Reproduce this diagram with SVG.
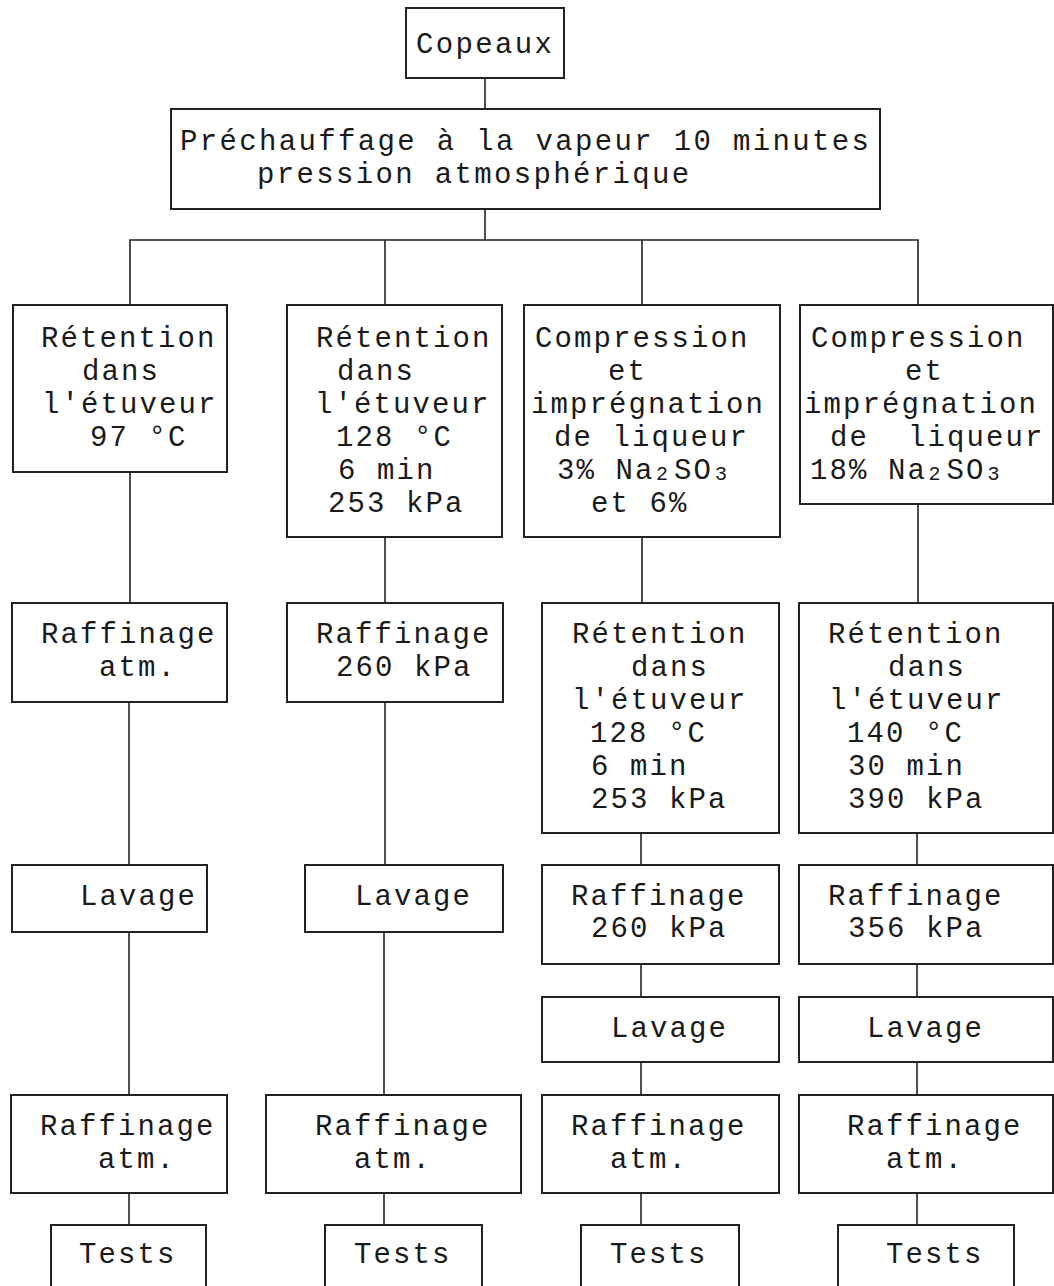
<svg xmlns="http://www.w3.org/2000/svg" width="1054" height="1286" viewBox="0 0 1054 1286">
<style>
.box{fill:#fff;stroke:#222;stroke-width:2}
.t{font-family:"Liberation Mono","DejaVu Sans Mono",monospace;font-size:29px;letter-spacing:2.1px;fill:#1a1a1a;white-space:pre}
.w{letter-spacing:2.35px}
.sub{font-size:20px}
.c{stroke:#222;stroke-width:1.6;fill:none}
</style>
<rect width="1054" height="1286" fill="#fff"/>
<g id="connectors">
<path class="c" d="M485 78V109M485 209V240M130 305V240H918V305M385 240V305M642 240V305"/>
<path class="c" d="M130 472V603M129 702V865M129 932V1095M129 1193V1225"/>
<path class="c" d="M385 537V603M385 702V865M384 932V1095M384 1193V1225"/>
<path class="c" d="M642 537V603M641 833V865M641 964V997M641 1062V1095M641 1193V1225"/>
<path class="c" d="M918 504V603M917 833V865M917 964V997M917 1062V1095M917 1193V1225"/>
</g>
<g id="copeaux"><rect class="box" x="406" y="8" width="158" height="70"/><text class="t w" x="416" y="53">Copeaux</text></g>
<g id="prechauffage"><rect class="box" x="171" y="109" width="709" height="100"/><text class="t w" x="180" y="150">Préchauffage à la vapeur 10 minutes</text><text class="t w" x="257" y="183">pression atmosphérique</text></g>

<g id="retention1"><rect class="box" x="13" y="305" width="214" height="167"/>
<text class="t" x="41" y="347">Rétention</text><text class="t" x="82" y="380">dans</text><text class="t" x="42" y="413">l'étuveur</text><text class="t" x="90" y="446">97 °C</text></g>
<g id="retention2"><rect class="box" x="287" y="305" width="215" height="232"/>
<text class="t" x="316" y="347">Rétention</text><text class="t" x="337" y="380">dans</text><text class="t" x="315" y="413">l'étuveur</text><text class="t" x="336" y="446">128 °C</text><text class="t" x="338" y="479">6 min</text><text class="t" x="328" y="512">253 kPa</text></g>
<g id="compression3"><rect class="box" x="524" y="305" width="256" height="232"/>
<text class="t" x="535" y="347">Compression</text><text class="t" x="608" y="380">et</text><text class="t" x="531" y="413">imprégnation</text><text class="t" x="554" y="446">de liqueur</text>
<text class="t" x="557" y="479">3% Na<tspan class="sub" x="656" dy="1">2</tspan><tspan x="674" dy="-1">SO</tspan><tspan class="sub" x="715" dy="1">3</tspan></text>
<text class="t" x="591" y="512">et 6%</text></g>
<g id="compression4"><rect class="box" x="800" y="305" width="253" height="199"/>
<text class="t" x="811" y="347">Compression</text><text class="t" x="905" y="380">et</text><text class="t" x="804" y="413">imprégnation</text><text class="t" x="830" y="446">de  liqueur</text>
<text class="t" x="810" y="479">18% Na<tspan class="sub" x="928.5" dy="1">2</tspan><tspan x="946.5" dy="-1">SO</tspan><tspan class="sub" x="987.5" dy="1">3</tspan></text></g>

<g id="raffinage1a"><rect class="box" x="12" y="603" width="215" height="99"/><text class="t" x="41" y="643">Raffinage</text><text class="t" x="99" y="676">atm.</text></g>
<g id="raffinage2a"><rect class="box" x="287" y="603" width="216" height="99"/><text class="t" x="316" y="643">Raffinage</text><text class="t" x="336" y="676">260 kPa</text></g>
<g id="retention3"><rect class="box" x="542" y="603" width="237" height="230"/>
<text class="t" x="572" y="643">Rétention</text><text class="t" x="631" y="676">dans</text><text class="t" x="572" y="709">l'étuveur</text><text class="t" x="590" y="742">128 °C</text><text class="t" x="591" y="775">6 min</text><text class="t" x="591" y="808">253 kPa</text></g>
<g id="retention4"><rect class="box" x="799" y="603" width="254" height="230"/>
<text class="t" x="828" y="643">Rétention</text><text class="t" x="888" y="676">dans</text><text class="t" x="829" y="709">l'étuveur</text><text class="t" x="847" y="742">140 °C</text><text class="t" x="848" y="775">30 min</text><text class="t" x="848" y="808">390 kPa</text></g>

<g id="lavage1"><rect class="box" x="12" y="865" width="195" height="67"/><text class="t" x="80" y="905">Lavage</text></g>
<g id="lavage2"><rect class="box" x="305" y="865" width="198" height="67"/><text class="t" x="355" y="905">Lavage</text></g>
<g id="raffinage3a"><rect class="box" x="542" y="865" width="237" height="99"/><text class="t" x="571" y="905">Raffinage</text><text class="t" x="591" y="937">260 kPa</text></g>
<g id="raffinage4a"><rect class="box" x="799" y="865" width="254" height="99"/><text class="t" x="828" y="905">Raffinage</text><text class="t" x="848" y="937">356 kPa</text></g>
<g id="lavage3"><rect class="box" x="542" y="997" width="237" height="65"/><text class="t" x="611" y="1037">Lavage</text></g>
<g id="lavage4"><rect class="box" x="799" y="997" width="254" height="65"/><text class="t" x="867" y="1037">Lavage</text></g>

<g id="raffinage1b"><rect class="box" x="11" y="1095" width="216" height="98"/><text class="t" x="40" y="1135">Raffinage</text><text class="t" x="98" y="1168">atm.</text></g>
<g id="raffinage2b"><rect class="box" x="266" y="1095" width="255" height="98"/><text class="t" x="315" y="1135">Raffinage</text><text class="t" x="354" y="1168">atm.</text></g>
<g id="raffinage3b"><rect class="box" x="542" y="1095" width="237" height="98"/><text class="t" x="571" y="1135">Raffinage</text><text class="t" x="610" y="1168">atm.</text></g>
<g id="raffinage4b"><rect class="box" x="799" y="1095" width="254" height="98"/><text class="t" x="847" y="1135">Raffinage</text><text class="t" x="886" y="1168">atm.</text></g>

<g id="tests1"><rect class="box" x="51" y="1225" width="155" height="80"/><text class="t" x="79" y="1263">Tests</text></g>
<g id="tests2"><rect class="box" x="325" y="1225" width="157" height="80"/><text class="t" x="354" y="1263">Tests</text></g>
<g id="tests3"><rect class="box" x="581" y="1225" width="158" height="80"/><text class="t" x="610" y="1263">Tests</text></g>
<g id="tests4"><rect class="box" x="838" y="1225" width="176" height="80"/><text class="t" x="886" y="1263">Tests</text></g>
</svg>
